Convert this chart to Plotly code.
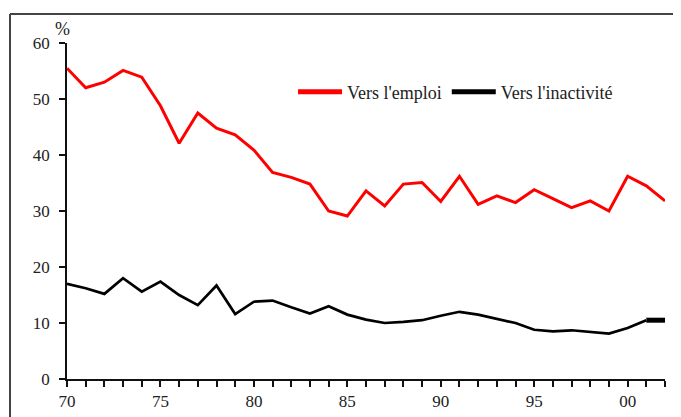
import plotly.graph_objects as go

years = list(range(1970, 2003))
vers_emploi = [55.5, 52.0, 53.0, 55.1, 53.9, 48.8, 42.1, 47.5, 44.8, 43.6,
               40.9, 36.9, 36.0, 34.8, 30.0, 29.1, 33.6, 30.9, 34.8, 35.1,
               31.7, 36.2, 31.2, 32.7, 31.5, 33.8, 32.2, 30.6, 31.8, 30.0,
               36.2, 34.5, 31.8]
vers_inactivite = [17.0, 16.2, 15.2, 18.0, 15.6, 17.4, 15.0, 13.2, 16.7, 11.6,
                   13.8, 14.0, 12.8, 11.7, 13.0, 11.5, 10.6, 10.0, 10.2, 10.5,
                   11.3, 12.0, 11.5, 10.8, 10.0, 8.8, 8.5, 8.7, 8.4, 8.1,
                   9.1, 10.5, 10.5]
x_tick_vals = [1970, 1975, 1980, 1985, 1990, 1995, 2000]
x_tick_text = ["70", "75", "80", "85", "90", "95", "00"]
y_tick_vals = [0, 10, 20, 30, 40, 50, 60]
series_names = ["Vers l'emploi", "Vers l'inactivité"]

FONT = "Liberation Serif"

fig = go.Figure()
fig.add_trace(go.Scatter(x=years, y=vers_emploi, mode="lines",
                         line=dict(color="#ff0000", width=3),
                         showlegend=False, hoverinfo="skip"))
fig.add_trace(go.Scatter(x=years[:-1], y=vers_inactivite[:-1], mode="lines",
                         line=dict(color="#000000", width=2.7),
                         showlegend=False, hoverinfo="skip"))
fig.add_trace(go.Scatter(x=years[-2:], y=vers_inactivite[-2:], mode="lines",
                         line=dict(color="#000000", width=5),
                         showlegend=False, hoverinfo="skip"))
# legend entries
fig.add_trace(go.Scatter(x=[None], y=[None], mode="lines", name=series_names[0],
                         line=dict(color="#ff0000", width=5)))
fig.add_trace(go.Scatter(x=[None], y=[None], mode="lines", name=series_names[1],
                         line=dict(color="#000000", width=5)))

frame = dict(color="#444444", width=2)
fig.update_layout(
    width=673, height=409,
    margin=dict(l=59, r=16, t=35, b=38, autoexpand=False),
    paper_bgcolor="white", plot_bgcolor="white",
    font=dict(family=FONT, size=16, color="#222222"),
    legend=dict(orientation="h", x=0.378, y=0.854, xanchor="left", yanchor="middle",
                font=dict(family=FONT, size=18, color="#222222"),
                itemwidth=44, tracegroupgap=0, bgcolor="rgba(0,0,0,0)"),
    xaxis=dict(range=[1970, 2002], tickvals=x_tick_vals, ticktext=x_tick_text,
               automargin=False,
               ticks="outside", ticklen=6, tickwidth=1.5, tickcolor="#111111",
               showline=True, linecolor="#111111", linewidth=1.5,
               showgrid=False, zeroline=False,
               minor=dict(dtick=1, ticks="outside", ticklen=6, tickwidth=1.5,
                          tickcolor="#111111", showgrid=False),
               tickfont=dict(family=FONT, size=17, color="#222222")),
    yaxis=dict(range=[0, 60], tickvals=y_tick_vals, ticks="outside", ticklen=6,
               automargin=False,
               tickwidth=1.5, tickcolor="#111111", showline=True,
               linecolor="#111111", linewidth=1.5, showgrid=False, zeroline=False,
               tickfont=dict(family=FONT, size=17, color="#222222"), ticklabelstandoff=6),
    shapes=[dict(type="line", xref="paper", yref="paper",
                 x0=-0.0953, x1=1.1, y0=1.0863, y1=1.0863, line=frame, layer="below"),
            dict(type="line", xref="paper", yref="paper",
                 x0=-0.0953, x1=-0.0953, y0=-0.2, y1=1.0863, line=frame, layer="below")],
    annotations=[dict(text="%", xref="paper", yref="paper", x=-0.0067, y=1.0417,
                      showarrow=False, xanchor="center", yanchor="middle",
                      font=dict(family=FONT, size=18, color="#222222"))],
)

fig.write_html("out.html")
